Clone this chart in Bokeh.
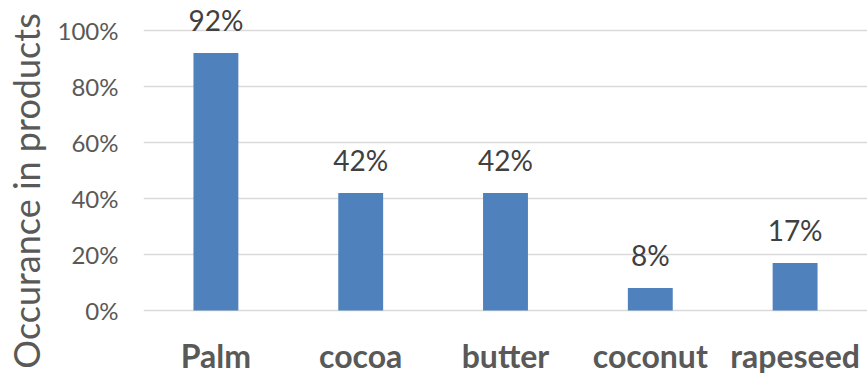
from bokeh.plotting import figure
from bokeh.models import ColumnDataSource, FactorRange, Range1d, FixedTicker, NumeralTickFormatter
from bokeh.embed import file_html
from bokeh.resources import INLINE
from bokeh.core.properties import value

# Share of products containing each fat
fats = ["Palm", "cocoa", "butter", "coconut", "rapeseed"]
occurrence = [0.92, 0.42, 0.42, 0.08, 0.17]
y_ticks = [0.0, 0.2, 0.4, 0.6, 0.8, 1.0]

labels = [f"{round(v * 100)}%" for v in occurrence]
src = ColumnDataSource(dict(fat=fats, occ=occurrence, label=labels, base=[0.0] * len(fats)))

FONT = "Lato"
GREY = "#595959"

# the frame runs to the bottom edge so the category names sit inside it
p = figure(
    width=867, height=373,
    x_range=FactorRange(*fats, range_padding=0),
    y_range=Range1d(-63 / 280, 302 / 280),
    output_backend="svg", toolbar_location=None,
    min_border_left=143, min_border_right=0,
    min_border_top=8, min_border_bottom=0,
)
p.outline_line_color = None
p.background_fill_color = "white"
p.border_fill_color = "white"

p.vbar(x="fat", top="occ", width=0.31, source=src,
       fill_color="#4F81BD", line_color=None)

p.text(x="fat", y="occ", text="label", source=src,
       text_align="center", text_baseline="alphabetic", y_offset=-33,
       text_font=value(FONT), text_font_size="28px", text_color="#404040")

# bold category names under the baseline
p.text(x="fat", y="base", text="fat", source=src,
       text_align="center", text_baseline="alphabetic", y_offset=45,
       text_font=value(FONT), text_font_size="32px", text_font_style="bold",
       text_color=GREY)

# y axis: percentages with light horizontal gridlines
p.yaxis.ticker = FixedTicker(ticks=y_ticks)
p.yaxis.formatter = NumeralTickFormatter(format="0%")
p.yaxis.axis_line_color = None
p.yaxis.major_tick_line_color = None
p.yaxis.minor_tick_line_color = None
p.yaxis.major_label_standoff = 19
p.yaxis.major_label_text_font = FONT
p.yaxis.major_label_text_font_size = "24px"
p.yaxis.major_label_text_color = GREY
p.yaxis.axis_label = "Occurance in products"
p.yaxis.axis_label_standoff = 7
p.yaxis.axis_label_text_font = FONT
p.yaxis.axis_label_text_font_size = "36px"
p.yaxis.axis_label_text_font_style = "normal"
p.yaxis.axis_label_text_color = GREY

p.ygrid.ticker = FixedTicker(ticks=y_ticks)
p.ygrid.grid_line_color = "#D9D9D9"
p.ygrid.grid_line_width = 1.5
p.xgrid.grid_line_color = None

p.xaxis.visible = False

open("out.html", "w").write(file_html(p, INLINE))
